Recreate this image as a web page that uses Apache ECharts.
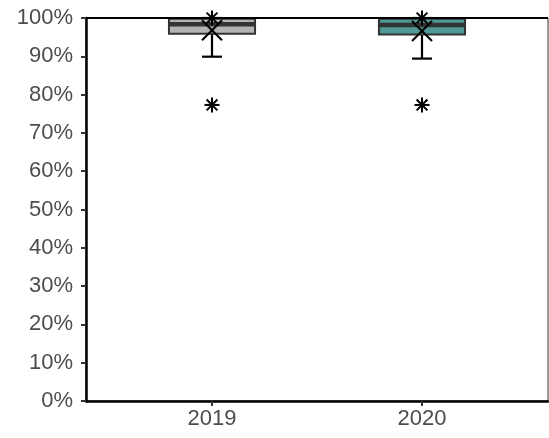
<!DOCTYPE html>
<html>
<head>
<meta charset="utf-8">
<script src="https://cdn.jsdelivr.net/npm/echarts@6/dist/echarts.min.js"></script>
<style>html,body{margin:0;padding:0;background:#fff;}#c{width:549px;height:438px;}</style>
</head>
<body>
<div id="c"></div>
<script>
const categories = ['2019', '2020'];
const boxFill = ['#b3b3b3', '#4f9896'];
const q1 = [95.9, 95.7];
const median = [98.4, 98.2];
const q3 = [99.8, 99.8];
const whiskerLow = [89.9, 89.4];
const whiskerHigh = [100, 100];
const means = [96.8, 96.6];
const outliersTop = [100, 100];
const outliersLow = [77.3, 77.3];
const yTicks = [0, 10, 20, 30, 40, 50, 60, 70, 80, 90, 100];

const boxData = categories.map((c, i) => [i, q1[i], median[i], q3[i], whiskerLow[i], whiskerHigh[i]]);
const meanData = categories.map((c, i) => [i, means[i]]);
const outlierData = [];
categories.forEach((c, i) => { outlierData.push([i, outliersTop[i]]); outlierData.push([i, outliersLow[i]]); });

const chart = echarts.init(document.getElementById('c'));

function boxItem(params, api) {
  const x = api.value(0);
  const pQ1 = api.coord([x, api.value(1)]);
  const pMed = api.coord([x, api.value(2)]);
  const pQ3 = api.coord([x, api.value(3)]);
  const pLo = api.coord([x, api.value(4)]);
  const pHi = api.coord([x, api.value(5)]);
  const w = api.size([0.41, 0])[0];
  const cw = api.size([0.095, 0])[0];
  const cx = pQ1[0];
  const idx = params.dataIndex;
  return {
    type: 'group',
    children: [
      { type: 'line', shape: { x1: cx, y1: pQ1[1], x2: cx, y2: pLo[1] }, style: { stroke: '#000', lineWidth: 2.2 } },
      { type: 'line', shape: { x1: cx - cw / 2, y1: pLo[1], x2: cx + cw / 2, y2: pLo[1] }, style: { stroke: '#000', lineWidth: 2.2 } },
      { type: 'line', shape: { x1: cx, y1: pQ3[1], x2: cx, y2: pHi[1] }, style: { stroke: '#000', lineWidth: 2.2 } },
      { type: 'line', shape: { x1: cx - cw / 2, y1: pHi[1], x2: cx + cw / 2, y2: pHi[1] }, style: { stroke: '#000', lineWidth: 2.2 } },
      { type: 'rect', shape: { x: cx - w / 2, y: pQ3[1], width: w, height: pQ1[1] - pQ3[1] }, style: { fill: boxFill[idx], stroke: '#333', lineWidth: 2 } },
      { type: 'line', shape: { x1: cx - w / 2, y1: pMed[1], x2: cx + w / 2, y2: pMed[1] }, style: { stroke: '#333', lineWidth: 4.5 } }
    ]
  };
}

function crossItem(params, api) {
  const p = api.coord([api.value(0), api.value(1)]);
  const r = 10;
  return {
    type: 'group',
    children: [
      { type: 'line', shape: { x1: p[0] - r, y1: p[1] - r, x2: p[0] + r, y2: p[1] + r }, style: { stroke: '#000', lineWidth: 2.2 } },
      { type: 'line', shape: { x1: p[0] - r, y1: p[1] + r, x2: p[0] + r, y2: p[1] - r }, style: { stroke: '#000', lineWidth: 2.2 } }
    ]
  };
}

function starItem(params, api) {
  const p = api.coord([api.value(0), api.value(1)]);
  const r = 7.5;
  const d = r * 0.72;
  const st = { stroke: '#000', lineWidth: 2 };
  return {
    type: 'group',
    children: [
      { type: 'line', shape: { x1: p[0], y1: p[1] - r, x2: p[0], y2: p[1] + r }, style: st },
      { type: 'line', shape: { x1: p[0] - r, y1: p[1], x2: p[0] + r, y2: p[1] }, style: st },
      { type: 'line', shape: { x1: p[0] - d, y1: p[1] - d, x2: p[0] + d, y2: p[1] + d }, style: st },
      { type: 'line', shape: { x1: p[0] - d, y1: p[1] + d, x2: p[0] + d, y2: p[1] - d }, style: st }
    ]
  };
}

const font = 'Liberation Sans, Arial, Helvetica, sans-serif';
const option = {
  backgroundColor: '#fff',
  animation: false,
  grid: { left: 86, right: 1, top: 18, bottom: 37, show: true, borderColor: '#333', borderWidth: 1 },
  xAxis: {
    type: 'value', min: -0.6, max: 1.6,
    splitLine: { show: false },
    axisLine: { show: true, onZero: false, lineStyle: { color: '#000', width: 2.5 } },
    axisTick: { show: true, customValues: [0, 1], length: 5, lineStyle: { color: '#333', width: 2 } },
    axisLabel: { customValues: [0, 1], formatter: v => categories[Math.round(v)], color: '#4d4d4d', fontSize: 22, fontFamily: font, margin: 7 }
  },
  yAxis: {
    type: 'value', min: 0, max: 100, interval: 10,
    splitLine: { show: false },
    axisLine: { show: true, onZero: false, lineStyle: { color: '#000', width: 2.5 } },
    axisTick: { show: true, length: 5, lineStyle: { color: '#333', width: 2 } },
    axisLabel: { formatter: v => v + '%', color: '#4d4d4d', fontSize: 22, fontFamily: font, margin: 13 }
  },
  series: [
    {
      type: 'custom', renderItem: boxItem, data: boxData, clip: false, z: 2,
      markLine: { silent: true, symbol: 'none', label: { show: false }, data: [{ yAxis: 100 }], lineStyle: { color: '#000', width: 2.2, type: 'solid' } }
    },
    { type: 'custom', renderItem: crossItem, data: meanData, clip: false, z: 4 },
    { type: 'custom', renderItem: starItem, data: outlierData, clip: false, z: 5 }
  ]
};
chart.setOption(option);
</script>
</body>
</html>
